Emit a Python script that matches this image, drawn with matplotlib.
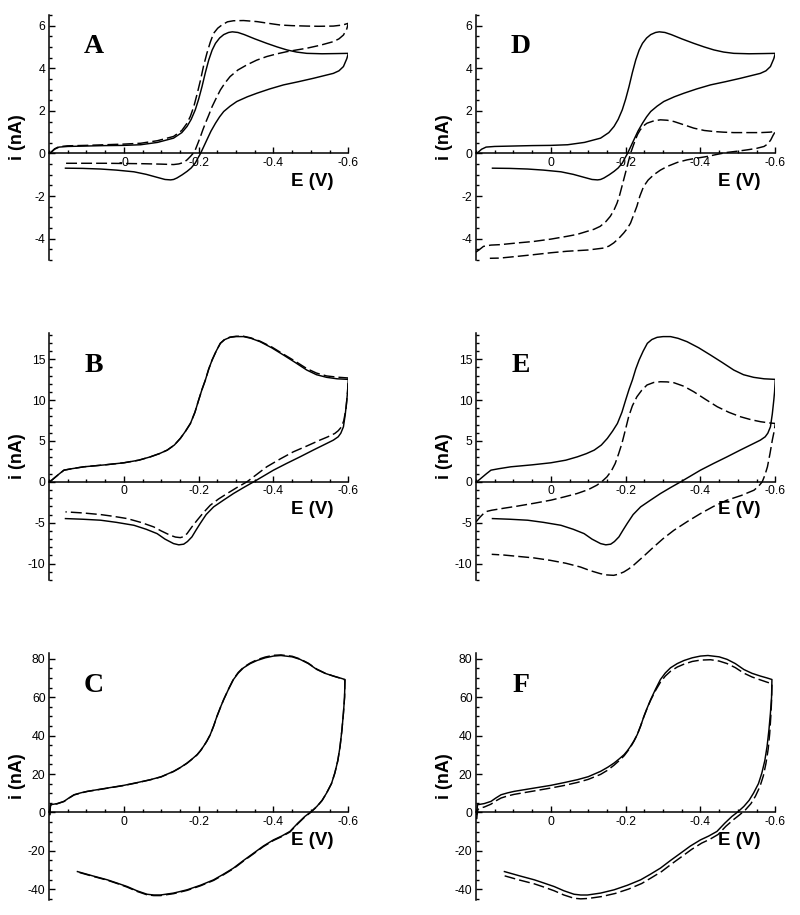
import numpy as np
import matplotlib
matplotlib.use('Agg')
import matplotlib.pyplot as plt
from matplotlib.ticker import MultipleLocator

plt.rcParams['font.family'] = ['Liberation Sans', 'DejaVu Sans']
plt.rcParams['axes.unicode_minus'] = False

# ---- row 1 (A, D): reference curve (solid) ----
E_ref1 = [0.198, 0.185, 0.173, 0.15, 0.1, 0.05, 0.0, -0.045, -0.09, -0.133, -0.155, -0.169, -0.18, -0.191,
          -0.2, -0.209, -0.218, -0.227, -0.236, -0.245, -0.256, -0.267, -0.28, -0.29, -0.305, -0.322, -0.35,
          -0.382, -0.41, -0.436, -0.462, -0.489, -0.53, -0.57, -0.6,
          -0.596, -0.587, -0.575, -0.56, -0.507, -0.467, -0.427, -0.39, -0.356, -0.33, -0.302, -0.284, -0.267,
          -0.256, -0.245, -0.233, -0.222, -0.213, -0.205, -0.197, -0.191, -0.18, -0.169, -0.156, -0.142, -0.133,
          -0.125, -0.11, -0.089, -0.06, -0.027, 0.02, 0.062, 0.11, 0.156]
i_ref1 = [0.0, 0.2, 0.3, 0.33, 0.35, 0.37, 0.38, 0.41, 0.52, 0.72, 0.98, 1.27, 1.6, 2.05,
          2.55, 3.14, 3.8, 4.39, 4.85, 5.17, 5.42, 5.58, 5.68, 5.71, 5.68, 5.58, 5.38,
          5.17, 5.0, 4.86, 4.76, 4.70, 4.68, 4.69, 4.70,
          4.45, 4.08, 3.88, 3.76, 3.53, 3.37, 3.22, 3.03, 2.83, 2.66, 2.44, 2.22, 1.97,
          1.72, 1.42, 1.05, 0.64, 0.3, 0.0, -0.25, -0.45, -0.68, -0.84, -1.0, -1.15, -1.22,
          -1.24, -1.22, -1.12, -0.98, -0.86, -0.78, -0.73, -0.70, -0.69]

E_A = [0.198, 0.185, 0.173, 0.15, 0.1, 0.05, 0.0, -0.045, -0.09, -0.133, -0.155, -0.169, -0.178, -0.187,
       -0.196, -0.205, -0.213, -0.222, -0.231, -0.24, -0.251, -0.262, -0.277, -0.293, -0.32, -0.356, -0.39,
       -0.418, -0.45, -0.489, -0.52, -0.56, -0.585, -0.6,
       -0.596, -0.587, -0.575, -0.56, -0.525, -0.489, -0.462, -0.436, -0.41, -0.382, -0.355, -0.329, -0.305,
       -0.284, -0.27, -0.258, -0.247, -0.236, -0.227, -0.218, -0.211, -0.205, -0.198, -0.191, -0.185, -0.178,
       -0.169, -0.16, -0.147, -0.133, -0.1, -0.05, 0.0, 0.05, 0.1, 0.156]
i_A = [0.0, 0.22, 0.32, 0.36, 0.38, 0.41, 0.44, 0.48, 0.6, 0.80, 1.08, 1.42, 1.75, 2.2,
       2.8, 3.45, 4.1, 4.70, 5.22, 5.64, 5.88, 6.03, 6.18, 6.23, 6.24, 6.19, 6.1,
       6.03, 6.0, 5.98, 5.97, 5.98, 6.03, 6.11,
       5.85, 5.56, 5.38, 5.25, 5.08, 4.94, 4.86, 4.78, 4.68, 4.55, 4.38, 4.16, 3.92,
       3.61, 3.3, 2.98, 2.6, 2.2, 1.8, 1.42, 1.1, 0.80, 0.48, 0.17, 0.0, -0.14,
       -0.3, -0.42, -0.49, -0.52, -0.5, -0.48, -0.47, -0.46, -0.46, -0.46]

E_D = [0.2, 0.19, 0.18, 0.16, 0.136, 0.09, 0.046, 0.0, -0.043, -0.07, -0.096, -0.115, -0.132, -0.147,
       -0.159, -0.169, -0.177, -0.184, -0.19, -0.197, -0.204, -0.213, -0.22, -0.226, -0.232, -0.239, -0.248,
       -0.257, -0.275, -0.293, -0.311, -0.329, -0.355, -0.382, -0.41, -0.436, -0.462, -0.489, -0.525, -0.561,
       -0.585, -0.6,
       -0.594, -0.588, -0.58, -0.57, -0.55, -0.525, -0.5, -0.471, -0.445, -0.418, -0.39, -0.364, -0.338,
       -0.311, -0.293, -0.275, -0.26, -0.248, -0.238, -0.23, -0.221, -0.213, -0.204, -0.195, -0.182, -0.168,
       -0.155, -0.141, -0.1, -0.043, 0.0, 0.046, 0.09, 0.136, 0.163]
i_D = [-4.63, -4.5, -4.36, -4.3, -4.28, -4.2, -4.13, -4.02, -3.89, -3.8, -3.66, -3.56, -3.42, -3.2,
       -2.95, -2.65, -2.33, -1.95, -1.55, -1.08, -0.61, 0.0, 0.35, 0.64, 0.9, 1.11, 1.3,
       1.42, 1.53, 1.58, 1.56, 1.5, 1.35, 1.19, 1.08, 1.03, 1.0, 0.98, 0.98, 0.98,
       1.0, 1.03,
       0.85, 0.64, 0.45, 0.33, 0.24, 0.17, 0.11, 0.05, -0.04, -0.14, -0.22, -0.3, -0.42,
       -0.61, -0.78, -1.0, -1.25, -1.55, -2.0, -2.48, -2.9, -3.27, -3.53, -3.73, -3.98, -4.2,
       -4.35, -4.44, -4.53, -4.59, -4.66, -4.75, -4.83, -4.91, -4.92]

# ---- row 2 (B, E): reference curve (solid) ----
E_ref2 = [0.198, 0.185, 0.172, 0.16, 0.14, 0.107, 0.05, 0.0, -0.04, -0.071, -0.095, -0.116, -0.135, -0.151,
          -0.165, -0.178, -0.19, -0.2, -0.209, -0.218, -0.227, -0.236, -0.247, -0.258, -0.27, -0.284, -0.3,
          -0.32, -0.34, -0.364, -0.395, -0.427, -0.458, -0.489, -0.515, -0.542, -0.57, -0.6,
          -0.598, -0.596, -0.592, -0.587, -0.58, -0.573, -0.56, -0.542, -0.507, -0.471, -0.435, -0.4, -0.373,
          -0.347, -0.32, -0.293, -0.266, -0.24, -0.22, -0.204, -0.193, -0.182, -0.17, -0.16, -0.147, -0.133,
          -0.11, -0.089, -0.06, -0.027, 0.02, 0.062, 0.11, 0.156]
i_ref2 = [0.0, 0.5, 1.0, 1.43, 1.6, 1.84, 2.08, 2.33, 2.65, 3.06, 3.45, 3.88, 4.5, 5.31,
          6.2, 7.14, 8.5, 10.0, 11.3, 12.45, 13.8, 14.9, 16.0, 16.94, 17.4, 17.67, 17.76,
          17.76, 17.55, 17.14, 16.4, 15.5, 14.6, 13.67, 13.1, 12.78, 12.6, 12.53,
          11.0, 10.0, 8.3, 6.73, 5.95, 5.51, 5.1, 4.69, 3.9, 3.06, 2.25, 1.43, 0.7,
          0.0, -0.7, -1.43, -2.25, -3.06, -4.0, -5.1, -5.9, -6.73, -7.3, -7.62, -7.7, -7.55,
          -7.0, -6.33, -5.8, -5.31, -4.95, -4.69, -4.57, -4.49]

E_B = [0.198, 0.185, 0.172, 0.16, 0.14, 0.107, 0.05, 0.0, -0.04, -0.071, -0.095, -0.116, -0.135, -0.151,
       -0.165, -0.178, -0.19, -0.2, -0.209, -0.218, -0.227, -0.236, -0.247, -0.258, -0.27, -0.284, -0.3,
       -0.32, -0.34, -0.364, -0.395, -0.427, -0.458, -0.489, -0.515, -0.542, -0.57, -0.6,
       -0.598, -0.594, -0.588, -0.582, -0.573, -0.564, -0.545, -0.524, -0.49, -0.453, -0.418, -0.382, -0.355,
       -0.329, -0.302, -0.276, -0.253, -0.231, -0.212, -0.196, -0.182, -0.169, -0.16, -0.151, -0.138, -0.124,
       -0.1, -0.08, -0.045, -0.009, 0.03, 0.062, 0.11, 0.156]
i_B = [0.0, 0.5, 1.0, 1.43, 1.6, 1.84, 2.08, 2.33, 2.65, 3.06, 3.45, 3.88, 4.5, 5.31,
       6.2, 7.14, 8.5, 10.0, 11.3, 12.45, 13.8, 14.9, 16.0, 16.94, 17.45, 17.7, 17.8,
       17.8, 17.6, 17.2, 16.5, 15.6, 14.75, 13.85, 13.3, 12.95, 12.8, 12.7,
       11.0, 9.0, 7.5, 6.73, 6.25, 5.92, 5.5, 5.1, 4.4, 3.67, 2.8, 1.84, 0.9,
       0.0, -0.7, -1.43, -2.1, -2.86, -3.8, -4.69, -5.5, -6.33, -6.7, -6.82, -6.75, -6.53,
       -6.0, -5.51, -4.95, -4.49, -4.2, -4.0, -3.8, -3.67]

E_E = [0.2, 0.19, 0.18, 0.17, 0.158, 0.125, 0.091, 0.045, 0.0, -0.035, -0.07, -0.1, -0.123, -0.138,
       -0.15, -0.162, -0.172, -0.181, -0.19, -0.199, -0.208, -0.218, -0.23, -0.243, -0.257, -0.275, -0.293,
       -0.311, -0.329, -0.355, -0.382, -0.413, -0.445, -0.476, -0.507, -0.535, -0.561, -0.585, -0.6,
       -0.597, -0.592, -0.586, -0.579, -0.572, -0.565, -0.555, -0.543, -0.51, -0.471, -0.435, -0.4, -0.365,
       -0.329, -0.3, -0.275, -0.248, -0.221, -0.208, -0.195, -0.18, -0.168, -0.15, -0.132, -0.105, -0.079,
       -0.04, 0.002, 0.045, 0.091, 0.125, 0.158]
i_E = [-4.9, -4.35, -3.88, -3.6, -3.47, -3.22, -2.98, -2.62, -2.24, -1.85, -1.43, -0.95, -0.41, 0.1,
       0.61, 1.35, 2.24, 3.4, 4.69, 6.3, 7.96, 9.3, 10.4, 11.2, 11.84, 12.15, 12.24,
       12.22, 12.12, 11.7, 11.02, 10.1, 9.18, 8.5, 7.96, 7.6, 7.35, 7.2, 7.14,
       6.2, 5.1, 3.5, 1.84, 0.8, 0.0, -0.55, -1.02, -1.65, -2.24, -3.0, -3.88, -4.85,
       -5.92, -6.95, -7.96, -9.1, -10.2, -10.65, -11.02, -11.3, -11.43, -11.38, -11.22, -10.85, -10.41,
       -9.95, -9.59, -9.3, -9.1, -8.95, -8.86]

# ---- row 3 (C, F): reference curve (solid) ----
E_ref3 = [0.198, 0.197, 0.196, 0.19, 0.178, 0.16, 0.147, 0.133, 0.115, 0.098, 0.05, 0.0, -0.035, -0.071,
          -0.1, -0.133, -0.152, -0.169, -0.183, -0.196, -0.205, -0.213, -0.222, -0.231, -0.24, -0.249, -0.258,
          -0.267, -0.28, -0.293, -0.306, -0.32, -0.338, -0.356, -0.378, -0.4, -0.42, -0.45, -0.471, -0.493,
          -0.516, -0.538, -0.56, -0.578, -0.591,
          -0.59, -0.587, -0.583, -0.578, -0.572, -0.564, -0.555, -0.542, -0.53, -0.516, -0.5, -0.484, -0.465,
          -0.444, -0.422, -0.4, -0.373, -0.347, -0.32, -0.293, -0.266, -0.24, -0.205, -0.169, -0.133, -0.098,
          -0.08, -0.062, -0.035, -0.009, 0.018, 0.044, 0.084, 0.124]
i_ref3 = [-1.0, 1.5, 4.0, 4.2, 4.6, 5.74, 7.5, 9.2, 10.2, 10.96, 12.5, 14.09, 15.5, 17.04,
          18.6, 21.39, 23.5, 25.7, 27.9, 30.1, 32.2, 34.4, 37.2, 40.5, 45.0, 50.1, 54.6,
          58.8, 64.2, 69.2, 72.6, 75.3, 77.5, 79.1, 80.5, 81.4, 81.7, 81.0, 79.7, 77.5,
          74.4, 72.4, 71.0, 70.0, 69.2,
          60.0, 51.8, 43.0, 34.4, 27.0, 20.5, 15.0, 10.1, 6.3, 3.13, 0.3, -2.09, -5.6,
          -9.9, -12.3, -14.3, -17.5, -21.2, -25.0, -29.0, -32.2, -35.1, -37.9, -40.3, -42.0, -43.0,
          -43.0, -42.6, -40.8, -38.6, -36.8, -35.1, -33.0, -30.8]

E_C = [0.198, 0.197, 0.196, 0.19, 0.178, 0.16, 0.147, 0.133, 0.115, 0.098, 0.05, 0.0, -0.035, -0.071,
       -0.1, -0.133, -0.152, -0.169, -0.183, -0.196, -0.205, -0.213, -0.222, -0.231, -0.24, -0.249, -0.258,
       -0.267, -0.28, -0.293, -0.306, -0.32, -0.338, -0.356, -0.378, -0.4, -0.42, -0.45, -0.471, -0.493,
       -0.516, -0.538, -0.56, -0.578, -0.591,
       -0.59, -0.587, -0.583, -0.578, -0.572, -0.564, -0.555, -0.542, -0.53, -0.516, -0.5, -0.484, -0.465,
       -0.444, -0.422, -0.4, -0.373, -0.347, -0.32, -0.293, -0.266, -0.24, -0.205, -0.169, -0.133, -0.098,
       -0.08, -0.062, -0.035, -0.009, 0.018, 0.044, 0.084, 0.124]
i_C = [-1.5, 1.0, 3.6, 4.0, 4.5, 5.7, 7.4, 9.1, 10.1, 10.9, 12.4, 14.0, 15.4, 17.0,
       18.5, 21.3, 23.4, 25.6, 27.8, 30.0, 32.1, 34.3, 37.1, 40.4, 44.9, 50.0, 54.5,
       58.8, 64.3, 69.4, 72.9, 75.6, 77.8, 79.5, 80.9, 81.8, 82.0, 81.3, 79.9, 77.7,
       74.6, 72.5, 71.0, 69.9, 69.0,
       60.0, 51.8, 43.0, 34.4, 27.0, 20.5, 15.0, 10.1, 6.2, 3.0, 0.1, -2.3, -5.9,
       -10.2, -12.6, -14.6, -17.8, -21.5, -25.3, -29.3, -32.5, -35.4, -38.2, -40.6, -42.3, -43.3,
       -43.3, -42.9, -41.1, -38.9, -37.0, -35.3, -33.2, -31.0]

E_F = [0.198, 0.197, 0.195, 0.19, 0.178, 0.16, 0.147, 0.133, 0.115, 0.098, 0.05, 0.0, -0.035, -0.071,
       -0.1, -0.133, -0.152, -0.169, -0.183, -0.196, -0.205, -0.213, -0.222, -0.231, -0.24, -0.249, -0.258,
       -0.267, -0.28, -0.293, -0.306, -0.32, -0.338, -0.356, -0.378, -0.4, -0.427, -0.45, -0.471, -0.493,
       -0.516, -0.538, -0.56, -0.578, -0.591,
       -0.59, -0.588, -0.585, -0.581, -0.575, -0.568, -0.559, -0.547, -0.535, -0.52, -0.505, -0.488, -0.468,
       -0.447, -0.425, -0.403, -0.376, -0.35, -0.323, -0.296, -0.269, -0.243, -0.208, -0.172, -0.136, -0.1,
       -0.08, -0.062, -0.035, -0.009, 0.018, 0.044, 0.084, 0.124]
i_F = [-3.5, -1.0, 1.5, 2.2, 2.8, 4.3, 6.0, 7.5, 8.6, 9.4, 11.0, 12.7, 14.0, 15.6,
       17.2, 19.8, 22.0, 24.6, 27.0, 29.5, 31.8, 34.0, 37.0, 40.5, 45.0, 50.0, 54.5,
       58.5, 63.5, 67.8, 71.0, 73.5, 75.7, 77.2, 78.6, 79.3, 79.5, 78.8, 77.5, 75.4,
       72.5, 70.5, 69.0, 67.8, 67.0,
       58.0, 50.0, 41.0, 33.0, 25.5, 19.0, 13.5, 8.5, 4.6, 1.3, -1.2, -3.8, -7.2,
       -11.5, -14.0, -16.0, -19.3, -23.0, -26.8, -30.8, -34.0, -37.0, -39.9, -42.2, -43.8, -44.8,
       -45.0, -44.7, -43.0, -40.8, -38.9, -37.2, -35.2, -33.0]

panel_letters = ['A', 'D', 'B', 'E', 'C', 'F']
ylims = [(-5, 6.5), (-12, 18.2), (-45.6, 83)]
ymajor = [2, 5, 20]
yminor = [0.5, 1, 5]
xtick_vals = [0, -0.2, -0.4, -0.6]
xtick_labels_A = ['-0', '-0.2', '-0.4', '-0.6']
xtick_labels = ['0', '-0.2', '-0.4', '-0.6']

refs = [(E_ref1, i_ref1), (E_ref2, i_ref2), (E_ref3, i_ref3)]
dashed = [[(E_A, i_A), (E_D, i_D)],
          [(E_B, i_B), (E_E, i_E)],
          [(E_C, i_C), (E_F, i_F)]]

W, H = 800, 915
fig = plt.figure(figsize=(W / 100, H / 100), dpi=100)
col_left = [49, 476]
row_top = [15, 333, 653]
row_h = [245, 247, 247]
ax_w = 299.3

dash = (0, (7.5, 2.8))
for r in range(3):
    for c in range(2):
        left = col_left[c] / W
        bottom = 1 - (row_top[r] + row_h[r]) / H
        ax = fig.add_axes([left, bottom, ax_w / W, row_h[r] / H])
        E_s, i_s = refs[r]
        E_d, i_d = dashed[r][c]
        ax.plot(E_s, i_s, color='k', lw=1.05, solid_joinstyle='round')
        ax.plot(E_d, i_d, color='k', lw=1.05, linestyle=dash)
        ax.set_xlim(0.2, -0.6)
        ax.set_ylim(*ylims[r])
        for s in ['top', 'right']:
            ax.spines[s].set_visible(False)
        ax.spines['bottom'].set_position(('data', 0))
        ax.spines['bottom'].set_linewidth(1.1)
        ax.spines['left'].set_linewidth(1.1)
        ax.set_xticks(xtick_vals)
        if r == 0 and c == 0:
            ax.set_xticklabels(xtick_labels_A)
        else:
            ax.set_xticklabels(xtick_labels)
        ax.xaxis.set_minor_locator(MultipleLocator(0.05))
        ax.yaxis.set_major_locator(MultipleLocator(ymajor[r]))
        ax.yaxis.set_minor_locator(MultipleLocator(yminor[r]))
        ax.tick_params(which='both', direction='in', width=1.0, labelsize=8.8, colors='k')
        ax.tick_params(which='major', length=4.5, pad=2.5)
        ax.tick_params(which='minor', length=2.3)
        ax.tick_params(axis='y', which='major', pad=2.5)
        ax.text(-0.104, 0.5, 'i (nA)', transform=ax.transAxes, rotation=90,
                ha='center', va='center', fontsize=13, fontweight='bold')
        ax.annotate('E (V)', xy=(1, 0), xycoords=('axes fraction', 'data'),
                    xytext=(-26, -20), textcoords='offset points',
                    ha='center', va='center', fontsize=13.5, fontweight='bold')
        ax.text(0.15, 0.87, panel_letters[r * 2 + c], transform=ax.transAxes,
                ha='center', va='center', fontsize=20, fontweight='bold',
                family='Liberation Serif')

fig.savefig('out.png', dpi=100)
